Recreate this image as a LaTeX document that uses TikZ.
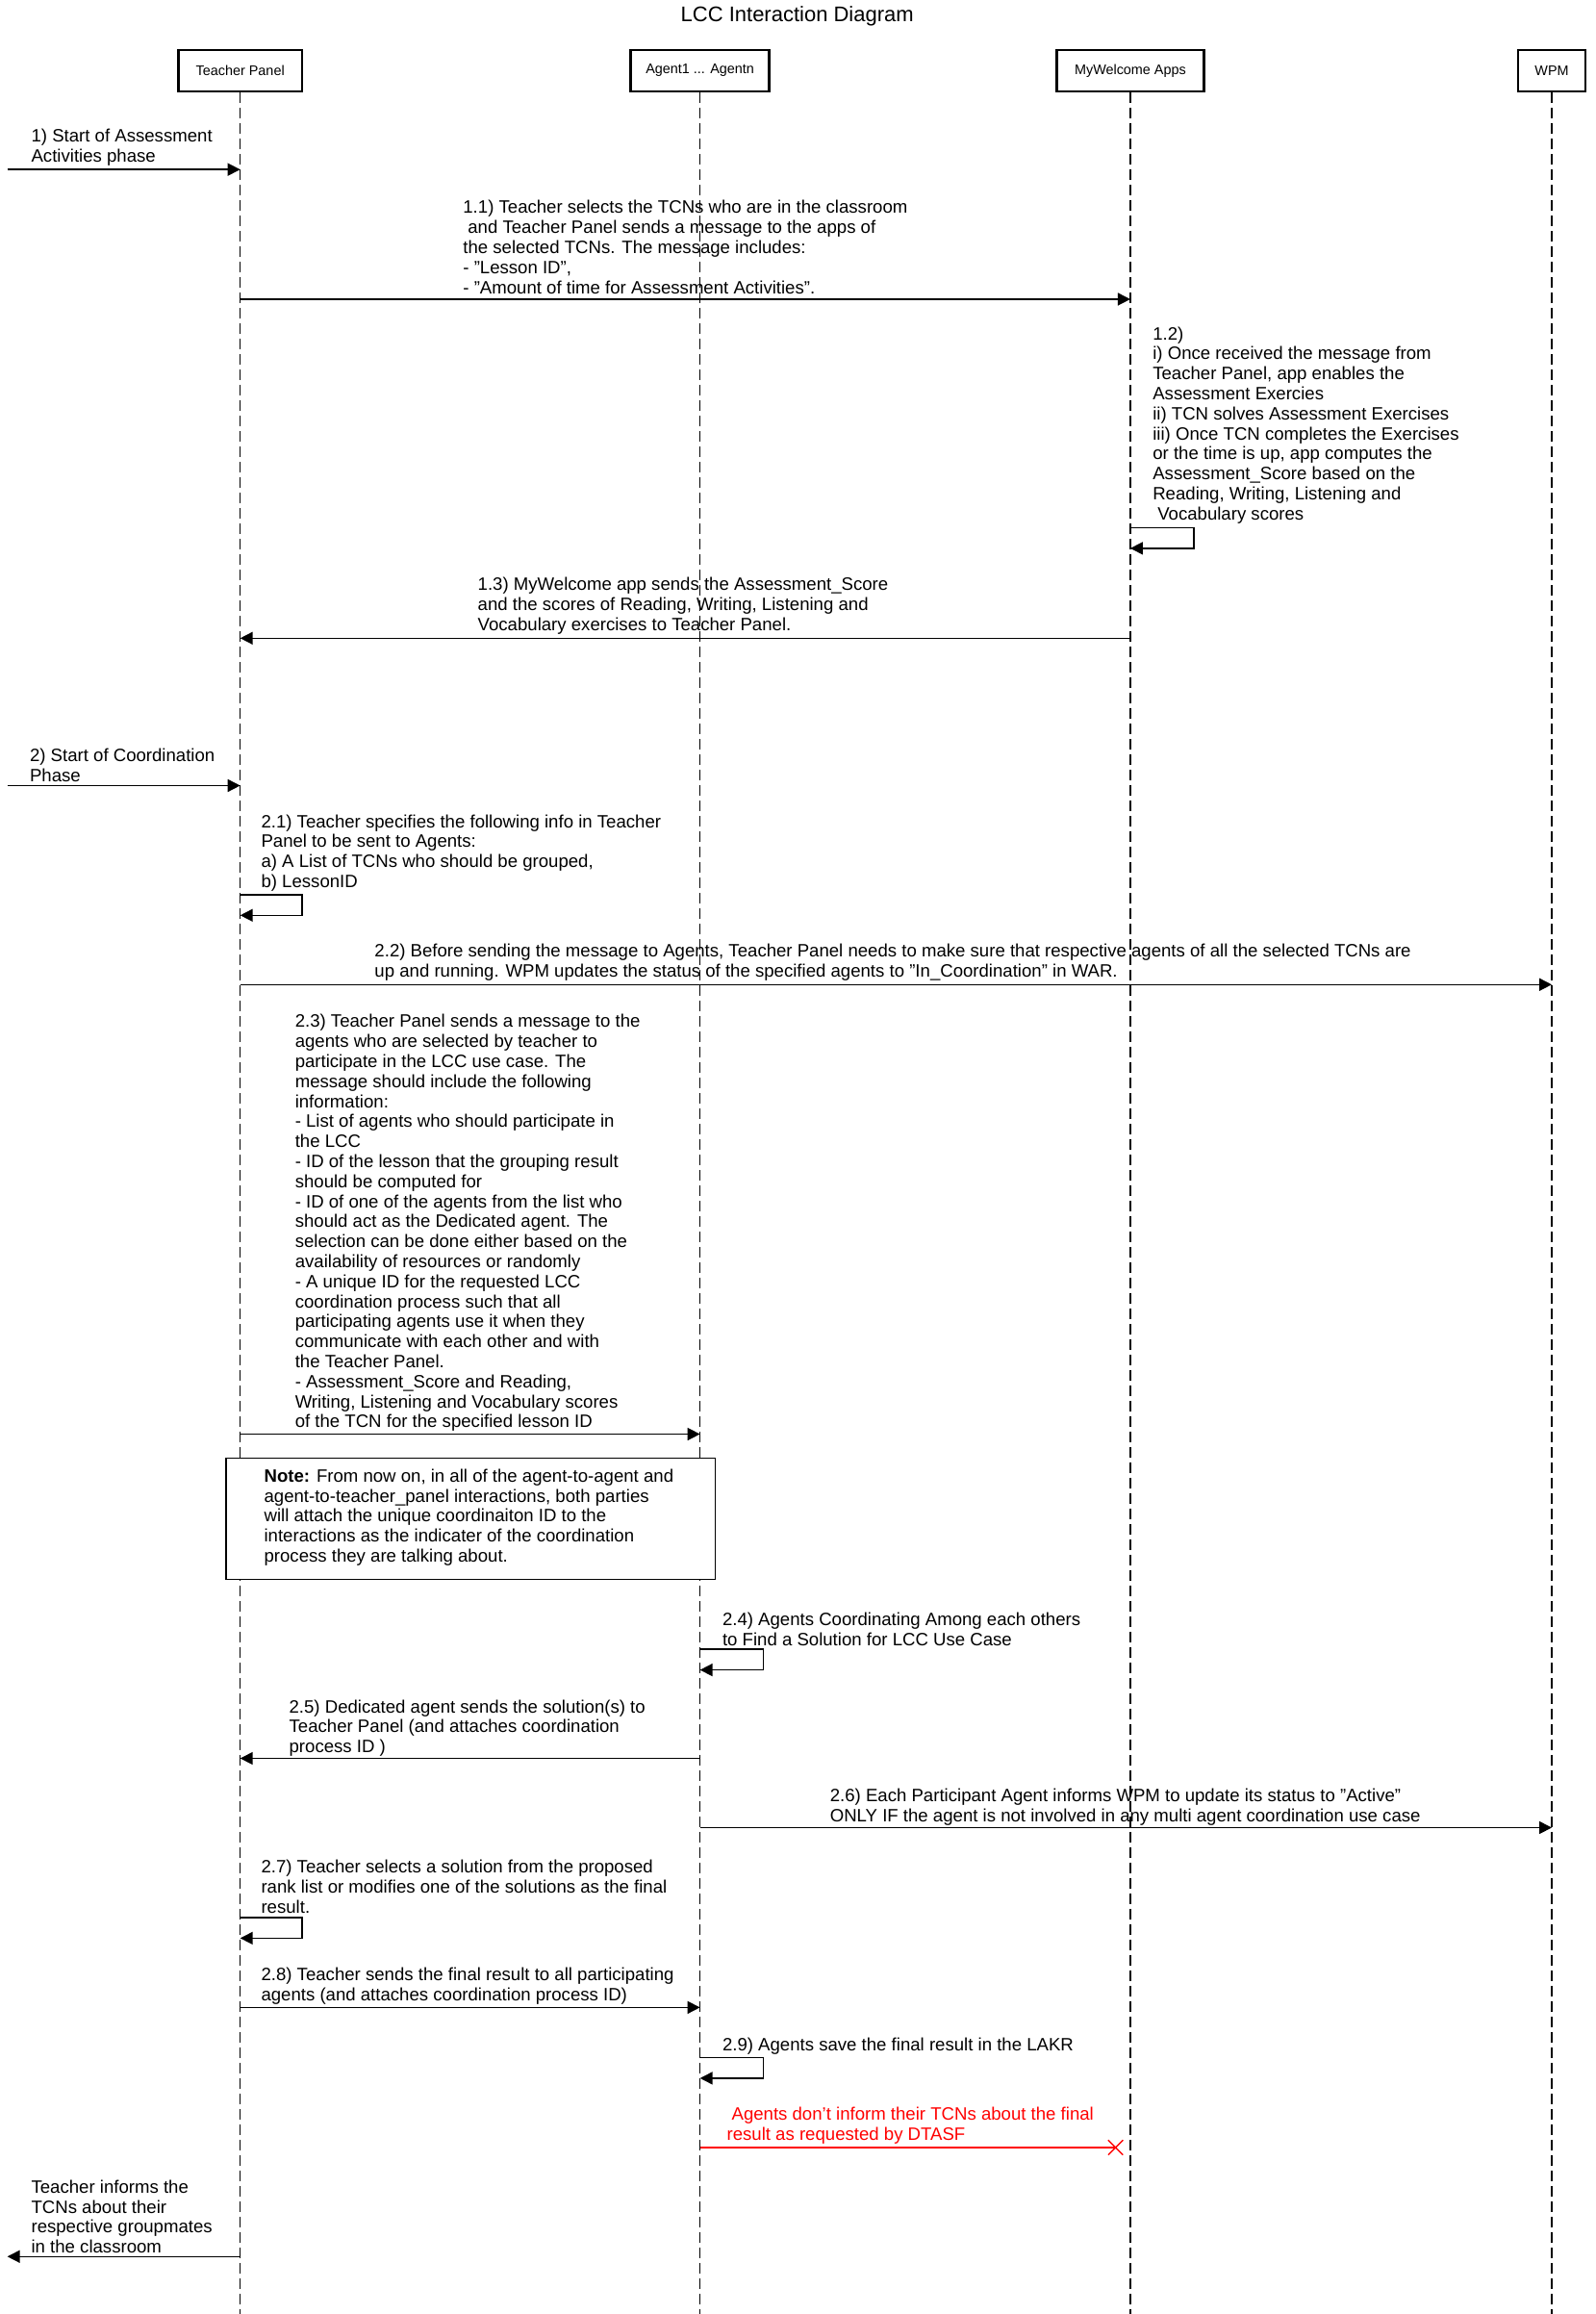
\documentclass[tikz,border=0pt]{standalone}
\usepackage{fontspec}
\setmainfont{Liberation Sans}
\usetikzlibrary{arrows.meta,shapes.misc}

\begin{document}
\begin{tikzpicture}[x=0.766pt,y=-0.766pt,
    actor/.style={draw, line width=1.2pt, minimum height=21.4pt, inner sep=0pt, font=\fontsize{7.2}{8}\selectfont},
    life/.style={black, line width=0.75pt, dash pattern=on 5.5pt off 2.5pt},
    msg/.style={line width=0.75pt, -{Triangle[length=6.5pt,width=6.5pt]}},
    lbl/.style={anchor=south west, align=left, inner sep=0pt, font=\fontsize{9.3}{10.4}\selectfont},
    notebox/.style={draw, fill=white, line width=0.7pt, anchor=north west, inner sep=0pt}]
    \useasboundingbox (0,0) rectangle (1083,1570);
    \node[font=\fontsize{11}{13}\selectfont] (title) at (541,11) {LCC Interaction Diagram};
    %% actors and lifelines
    \node[actor, minimum width=64.3pt] (tp) at (163,48) {Teacher Panel};
    \node[actor, minimum width=72pt] (ag) at (475,48) {Agent1 ... Agentn};
    \node[actor, minimum width=76.6pt] (mw) at (767,48) {MyWelcome Apps};
    \node[actor, minimum width=35.2pt] (wpm) at (1053,48) {WPM};
    \foreach \a in {tp,ag,mw,wpm}
      \draw[life] (\a.south) -- (\a |- 0,1570);
    %% assessment phase
    \coordinate (start1) at (5,115);
    \draw[msg] (start1) -- (tp |- start1);
    \node[lbl] at (21,112.5) {1) Start of Assessment\\Activities phase};
    \draw[msg] (tp |- 0,203) -- (mw |- 0,203);
    \node[lbl] at (314,199.5) {1.1) Teacher selects the TCNs who are in the classroom\\\hspace{2.5pt}and Teacher Panel sends a message to the apps of\\the selected TCNs. The message includes:\\- "Lesson ID",\\- "Amount of time for Assessment Activities".};
    \draw[msg] (mw |- 0,358) -| ++(43,14) -- (mw |- 0,372);
    \node[lbl] at (782,355.5) {1.2)\\i) Once received the message from\\Teacher Panel, app enables the\\Assessment Exercies\\ii) TCN solves Assessment Exercises\\iii) Once TCN completes the Exercises\\or the time is up, app computes the\\Assessment\_Score based on the\\Reading, Writing, Listening and\\\hspace{2.5pt}Vocabulary scores};
    \draw[msg] (mw |- 0,433) -- (tp |- 0,433);
    \node[lbl] at (324,430.5) {1.3) MyWelcome app sends the Assessment\_Score\\and the scores of Reading, Writing, Listening and\\Vocabulary exercises to Teacher Panel.};
    %% coordination phase
    \coordinate (start2) at (5,533);
    \draw[msg] (start2) -- (tp |- start2);
    \node[lbl] at (20,530.5) {2) Start of Coordination\\Phase};
    \draw[msg] (tp |- 0,607) -| ++(42,14) -- (tp |- 0,621);
    \node[lbl] at (177,605) {2.1) Teacher specifies the following info in Teacher\\Panel to be sent to Agents:\\a) A List of TCNs who should be grouped,\\b) LessonID};
    \draw[msg] (tp |- 0,668) -- (wpm |- 0,668);
    \node[lbl] at (254,665.5) {2.2) Before sending the message to Agents, Teacher Panel needs to make sure that respective agents of all the selected TCNs are\\up and running. WPM updates the status of the specified agents to "In\_Coordination" in WAR.};
    \draw[msg] (tp |- 0,973) -- (ag |- 0,973);
    \node[lbl] at (200,971.5) {2.3) Teacher Panel sends a message to the\\agents who are selected by teacher to\\participate in the LCC use case. The\\message should include the following\\information:\\- List of agents who should participate in\\the LCC\\- ID of the lesson that the grouping result\\should be computed for\\- ID of one of the agents from the list who\\should act as the Dedicated agent. The\\selection can be done either based on the\\availability of resources or randomly\\- A unique ID for the requested LCC\\coordination process such that all\\participating agents use it when they\\communicate with each other and with\\the Teacher Panel.\\- Assessment\_Score and Reading,\\Writing, Listening and Vocabulary scores\\of the TCN for the specified lesson ID};
    %% note
    \node[notebox, minimum width=254.3pt, minimum height=62.8pt] (note) at (153,989) {};
    \node[lbl, anchor=north west] at (179,996.5) {\textbf{Note:} From now on, in all of the agent-to-agent and\\agent-to-teacher\_panel interactions, both parties\\will attach the unique coordinaiton ID to the\\interactions as the indicater of the coordination\\process they are talking about.};
    %%
    \draw[msg] (ag |- 0,1119) -| ++(43,14) -- (ag |- 0,1133);
    \node[lbl] at (490,1117) {2.4) Agents Coordinating Among each others\\to Find a Solution for LCC Use Case};
    \draw[msg] (ag |- 0,1193) -- (tp |- 0,1193);
    \node[lbl] at (196,1192) {2.5) Dedicated agent sends the solution(s) to\\Teacher Panel (and attaches coordination\\process ID )};
    \draw[msg] (ag |- 0,1240) -- (wpm |- 0,1240);
    \node[lbl] at (563,1239) {2.6) Each Participant Agent informs WPM to update its status to "Active"\\ONLY IF the agent is not involved in any multi agent coordination use case};
    \draw[msg] (tp |- 0,1301) -| ++(42,14) -- (tp |- 0,1315);
    \node[lbl] at (177,1298.5) {2.7) Teacher selects a solution from the proposed\\rank list or modifies one of the solutions as the final\\result.};
    \draw[msg] (tp |- 0,1362) -- (ag |- 0,1362);
    \node[lbl] at (177,1360) {2.8) Teacher sends the final result to all participating\\agents (and attaches coordination process ID)};
    \draw[msg] (ag |- 0,1396) -| ++(43,14) -- (ag |- 0,1410);
    \node[lbl] at (490,1394) {2.9) Agents save the final result in the LAKR};
    \node[cross out, draw=red, line width=0.7pt, minimum size=7pt, inner sep=0pt] (lost) at (757,1457) {};
    \draw[red, line width=0.7pt] (ag |- lost) -- (lost.center);
    \node[lbl, red] at (493,1455) {\hspace{2.5pt}Agents don't inform their TCNs about the final\\result as requested by DTASF};
    \coordinate (out) at (5,1531);
    \draw[msg] (tp |- out) -- (out);
    \node[lbl] at (21,1529) {Teacher informs the\\TCNs about their\\respective groupmates\\in the classroom};
\end{tikzpicture}
\end{document}
